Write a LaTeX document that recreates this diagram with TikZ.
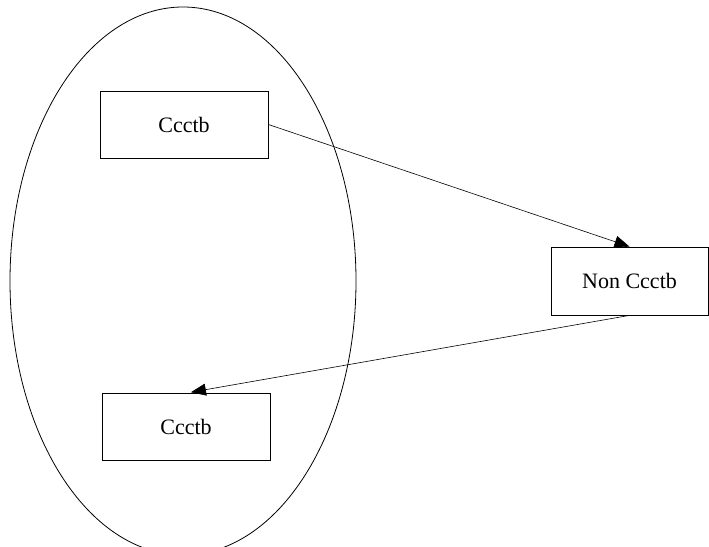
\documentclass[tikz,border=0pt]{standalone}
\usepackage{fontspec}
\setmainfont{Liberation Serif}
\usetikzlibrary{arrows.meta,positioning,shapes.geometric}

\begin{document}
\begin{tikzpicture}[x=1pt,y=1pt,every node/.style={font=\fontsize{22}{26}\selectfont},box/.style={draw,line width=0.8pt,inner sep=0pt,minimum width=168pt,minimum height=67pt},arr/.style={-{Triangle[length=15pt,width=12pt]},line width=0.6pt}]
\useasboundingbox (0,0) rectangle (709,546);
\node[draw,ellipse,line width=0.8pt,minimum width=346pt,minimum height=548pt,inner sep=0pt] (group) at (183,265) {};
\node[box] (top) at (184,421.5) {Ccctb};
\node[box,minimum width=157pt,minimum height=68pt] (non) at (629.5,265) {Non Ccctb};
\node[box] (bot) at (186,119) {Ccctb};
\draw[arr] (top.east)--(non.north);
\draw[arr,shorten >=5pt] (non.south)--(bot.north);
\end{tikzpicture}
\end{document}
